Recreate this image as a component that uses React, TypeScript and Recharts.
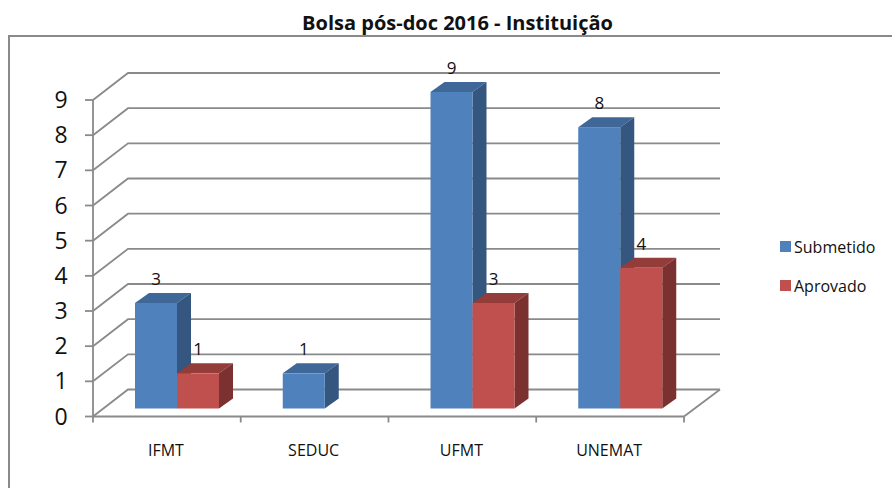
import { Bar, BarChart, CartesianGrid, Legend, XAxis, YAxis } from "recharts"

const categories = ["IFMT", "SEDUC", "UFMT", "UNEMAT"]
const submetido = [3, 1, 9, 8]
const aprovado = [1, null, 3, 4]
const yTicks = [0, 1, 2, 3, 4, 5, 6, 7, 8, 9]

const data = categories.map((name, i) => ({
  name,
  submetido: submetido[i],
  aprovado: aprovado[i],
}))

const font = "'Open Sans', sans-serif"
const lineColor = "#8a8a8a"
const lineWidth = 1.8

// 3d look: back wall is shifted from the front plane, bars sit slightly inside the floor
const wallDx = 35
const wallDy = -27
const barDx = 10
const barDy = -8
const depthX = 14
const depthY = -10

const cuboid = (front: string, top: string, side: string) => (props: any) => {
  const { x, y, width, height } = props
  if (!height) return null
  const l = x + barDx
  const t = y + barDy
  const r = l + width
  const b = t + height
  return (
    <g>
      <path d={`M${l} ${t}L${l + depthX} ${t + depthY}L${r + depthX} ${t + depthY}L${r} ${t}Z`} fill={top} />
      <path d={`M${r} ${t}L${r + depthX} ${t + depthY}L${r + depthX} ${b + depthY}L${r} ${b}Z`} fill={side} />
      <rect x={l} y={t} width={width} height={height} fill={front} />
    </g>
  )
}

const valueLabel = (props: any) => {
  const { x, y, width, value } = props
  if (value == null) return null
  return (
    <text x={x + width / 2 + barDx} y={y + barDy - 18} textAnchor="middle" fontFamily={font} fontSize={17} fill="#111">
      {value}
    </text>
  )
}

const gridLine = (props: any) => {
  const { x1, x2, y1, index } = props
  return (
    <g key={index} stroke={lineColor} strokeWidth={lineWidth} fill="none">
      <path d={`M${x1} ${y1}L${x1 + wallDx} ${y1 + wallDy}L${x2 + wallDx + 1} ${y1 + wallDy}`} />
      {y1 > 400 && <path d={`M${x2} ${y1}L${x2 + wallDx + 1} ${y1 + wallDy}`} />}
    </g>
  )
}

const YTick = (props: any) => {
  const { y, payload } = props
  return (
    <g>
      <line x1={85} x2={93} y1={y} y2={y} stroke={lineColor} strokeWidth={lineWidth} />
      <text x={61} y={y + 8} textAnchor="middle" fontFamily={font} fontSize={23} fill="#111">
        {payload.value}
      </text>
    </g>
  )
}

const XTick = (props: any) => {
  const { x, y, payload, index } = props
  const half = 73.9
  const axisY = y - 8
  return (
    <g>
      <line x1={x - half} x2={x - half} y1={axisY} y2={axisY + 6} stroke={lineColor} strokeWidth={lineWidth} />
      {index === categories.length - 1 && (
        <line x1={x + half} x2={x + half} y1={axisY} y2={axisY + 6} stroke={lineColor} strokeWidth={lineWidth} />
      )}
      <text x={x - 1} y={axisY + 39} textAnchor="middle" fontFamily={font} fontSize={16} fill="#111">
        {payload.value}
      </text>
    </g>
  )
}

const LegendBox = () => (
  <div style={{ fontFamily: font, fontSize: 16, color: "#111" }}>
    {[
      ["Submetido", "#4F81BD"],
      ["Aprovado", "#C0504D"],
    ].map(([label, color]) => (
      <div key={label} style={{ display: "flex", alignItems: "center", height: 39 }}>
        <span style={{ width: 11, height: 11, background: color, marginRight: 3 }} />
        {label}
      </div>
    ))}
  </div>
)

export default function App() {
  return (
    <div style={{ position: "absolute", left: 0, top: 0, width: 892, height: 488, overflow: "hidden", background: "#fff" }}>
      <div
        style={{
          position: "absolute",
          left: 8,
          top: 35,
          width: 884,
          height: 453,
          boxSizing: "border-box",
          borderTop: `2px solid ${lineColor}`,
          borderLeft: `2px solid ${lineColor}`,
        }}
      />
      <div
        style={{
          position: "absolute",
          left: 0,
          width: 915,
          top: 12,
          textAlign: "center",
          fontFamily: font,
          fontWeight: 700,
          fontSize: 20,
          lineHeight: "22px",
          color: "#111",
        }}
      >
        Bolsa pós-doc 2016 - Instituição
      </div>
      <BarChart
        width={892}
        height={488}
        data={data}
        barSize={42}
        barGap={0}
        margin={{ top: 100, right: 208, bottom: 31.5, left: 0 }}
        style={{ position: "absolute", left: 0, top: 0 }}
      >
        <CartesianGrid vertical={false} horizontal={gridLine} />
        <XAxis
          dataKey="name"
          height={40}
          tick={XTick}
          tickLine={false}
          interval={0}
          axisLine={{ stroke: lineColor, strokeWidth: lineWidth }}
        />
        <YAxis
          width={93}
          domain={[0, 9]}
          ticks={yTicks}
          interval={0}
          tick={YTick}
          tickLine={false}
          axisLine={{ stroke: lineColor, strokeWidth: lineWidth }}
        />
        <Legend
          layout="vertical"
          align="center"
          verticalAlign="middle"
          content={LegendBox}
          wrapperStyle={{ position: "absolute", left: 780, top: 227, width: 110, height: 78 }}
        />
        <Bar
          dataKey="submetido"
          name="Submetido"
          isAnimationActive={false}
          shape={cuboid("#4F81BD", "#3F6797", "#34567F")}
          label={valueLabel}
        />
        <Bar
          dataKey="aprovado"
          name="Aprovado"
          isAnimationActive={false}
          shape={cuboid("#C0504D", "#933C3A", "#7B312F")}
          label={valueLabel}
        />
      </BarChart>
    </div>
  )
}
